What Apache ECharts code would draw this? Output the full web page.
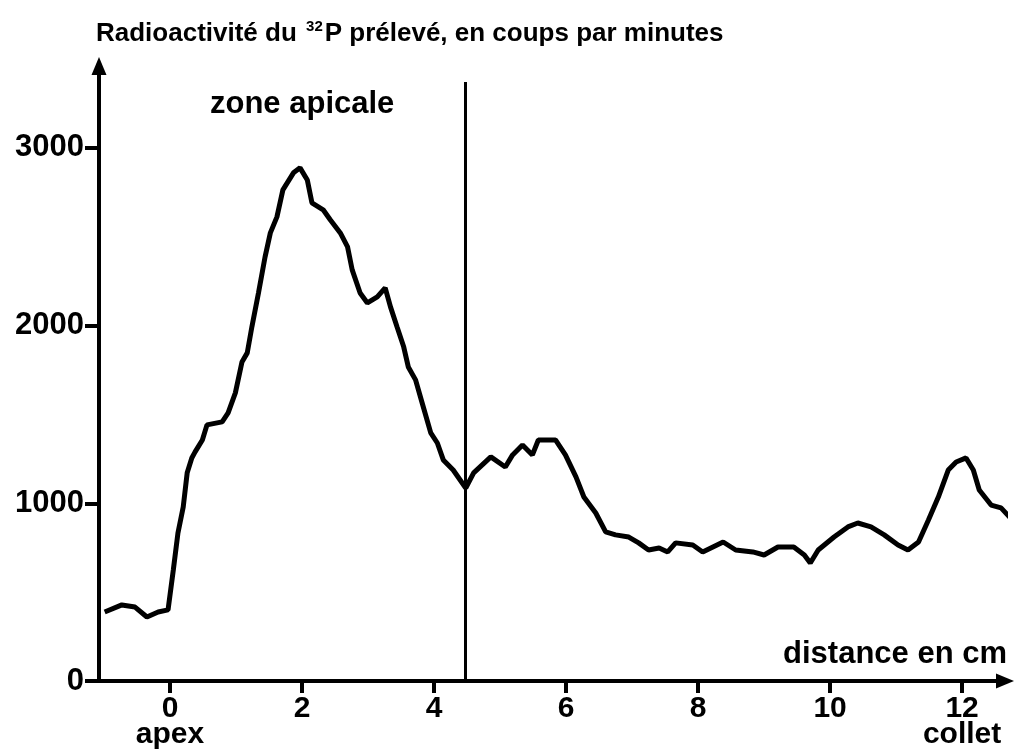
<!DOCTYPE html>
<html lang="fr">
<head>
    <meta charset="UTF-8">
    <title>Radioactivité du 32P</title>
    <script src="https://cdn.jsdelivr.net/npm/echarts/dist/echarts.min.js"></script>
    <style>
        html, body { margin: 0; padding: 0; background: #fff; }
        #chart { width: 1018px; height: 753px; }
    </style>
</head>
<body>
    <div id="chart"></div>
<script>
    // distance depuis l'apex (cm)
    var distances = [-0.99, -0.73, -0.53, -0.35, -0.18, -0.03, 0.05, 0.12, 0.20, 0.26,
        0.33, 0.38, 0.49, 0.56, 0.79, 0.88, 0.99, 1.09, 1.17, 1.24,
        1.34, 1.44, 1.52, 1.62, 1.71, 1.87, 1.97, 2.08, 2.15, 2.32,
        2.43, 2.58, 2.69, 2.76, 2.88, 2.99, 3.14, 3.26, 3.34, 3.44,
        3.54, 3.61, 3.72, 3.82, 3.95, 4.05, 4.14, 4.29, 4.48, 4.60,
        4.86, 5.08, 5.19, 5.34, 5.49, 5.58, 5.72, 5.84, 5.99, 6.15,
        6.27, 6.45, 6.60, 6.75, 6.95, 7.10, 7.25, 7.41, 7.54, 7.66,
        7.92, 8.07, 8.38, 8.57, 8.83, 9.00, 9.21, 9.45, 9.61, 9.70,
        9.82, 10.06, 10.27, 10.42, 10.62, 10.82, 11.03, 11.18, 11.34, 11.49,
        11.64, 11.79, 11.91, 12.06, 12.17, 12.26, 12.44, 12.59, 12.79];
    // coups par minute
    var coups = [388, 428, 416, 360, 388, 400, 625, 833, 979, 1171,
        1255, 1289, 1356, 1441, 1458, 1508, 1621, 1795, 1846, 1992,
        2183, 2386, 2521, 2611, 2763, 2859, 2887, 2819, 2690, 2651,
        2594, 2521, 2442, 2313, 2183, 2127, 2161, 2212, 2105, 1992,
        1880, 1767, 1694, 1564, 1396, 1339, 1244, 1187, 1086, 1171,
        1261, 1204, 1272, 1328, 1272, 1356, 1356, 1356, 1272, 1148,
        1035, 945, 839, 822, 810, 777, 737, 748, 726, 777,
        765, 726, 782, 737, 726, 709, 754, 754, 709, 664,
        737, 810, 867, 889, 867, 822, 765, 737, 782, 906,
        1035, 1187, 1232, 1255, 1187, 1075, 990, 974, 895];
    var xTicks = [0, 2, 4, 6, 8, 10, 12];
    var yTicks = [0, 1000, 2000, 3000];
    var limiteApicale = 4.48;   // fin de la zone apicale
    var hautLimite = 3370;

    var points = [];
    for (var i = 0; i < distances.length; i++) {
        points.push([distances[i], coups[i]]);
    }

    var font = '"Liberation Sans", Arial, sans-serif';
    var myChart = echarts.init(document.getElementById('chart'));
    var option = {
        animation: false,
        backgroundColor: '#fff',
        grid: { left: 99, right: 13, top: 66, bottom: 72 },
        title: [{
            text: '{a|Radioactivité du }{s|32}{a|P prélevé, en coups par minutes}',
            left: 91,
            top: 14,
            textStyle: {
                rich: {
                    a: { fontFamily: font, fontWeight: 'bold', fontSize: 26, color: '#000', lineHeight: 30 },
                    s: { fontFamily: font, fontWeight: 'bold', fontSize: 15, color: '#000', lineHeight: 30, verticalAlign: 'top', padding: [0, 2, 0, 2] }
                }
            }
        }, {
            text: 'zone apicale',
            left: 205,
            top: 84,
            textStyle: { fontFamily: font, fontWeight: 'bold', fontSize: 31, color: '#000' }
        }, {
            text: 'distance en cm',
            right: 6,
            top: 634,
            textStyle: { fontFamily: font, fontWeight: 'bold', fontSize: 31, color: '#000' }
        }],
        xAxis: {
            type: 'value',
            min: -1.076,
            max: 12.65,
            splitLine: { show: false },
            axisLine: {
                onZero: false,
                symbol: ['none', 'triangle'],
                symbolSize: [15, 18],
                lineStyle: { color: '#000', width: 4 }
            },
            axisTick: {
                customValues: xTicks,
                length: 12,
                lineStyle: { color: '#000', width: 4 }
            },
            axisLabel: {
                customValues: xTicks,
                margin: 15,
                color: '#000',
                fontFamily: font,
                fontWeight: 'bold',
                fontSize: 30,
                lineHeight: 26,
                formatter: function (v) {
                    if (v === 0) return '0\n{n|apex}';
                    if (v === 12) return '12\n{n|collet}';
                    return String(v);
                },
                rich: {
                    n: { fontFamily: font, fontWeight: 'bold', fontSize: 30, color: '#000', lineHeight: 26 }
                }
            }
        },
        yAxis: {
            type: 'value',
            min: 0,
            max: 3460,
            splitLine: { show: false },
            axisLine: {
                onZero: false,
                symbol: ['none', 'triangle'],
                symbolSize: [15, 18],
                lineStyle: { color: '#000', width: 4 }
            },
            axisTick: {
                customValues: yTicks,
                length: 14,
                lineStyle: { color: '#000', width: 4 }
            },
            axisLabel: {
                customValues: yTicks,
                margin: 15,
                color: '#000',
                fontFamily: font,
                fontWeight: 'bold',
                fontSize: 31,
                formatter: function (v) { return String(v); }
            }
        },
        series: [{
            type: 'line',
            data: points,
            showSymbol: false,
            symbol: 'none',
            smooth: false,
            lineStyle: { color: '#000', width: 5 },
            markLine: {
                silent: true,
                symbol: ['none', 'none'],
                label: { show: false },
                lineStyle: { color: '#000', width: 3, type: 'solid' },
                data: [[{ coord: [limiteApicale, 0] }, { coord: [limiteApicale, hautLimite] }]]
            }
        }]
    };
    myChart.setOption(option);
</script>
</body>
</html>
